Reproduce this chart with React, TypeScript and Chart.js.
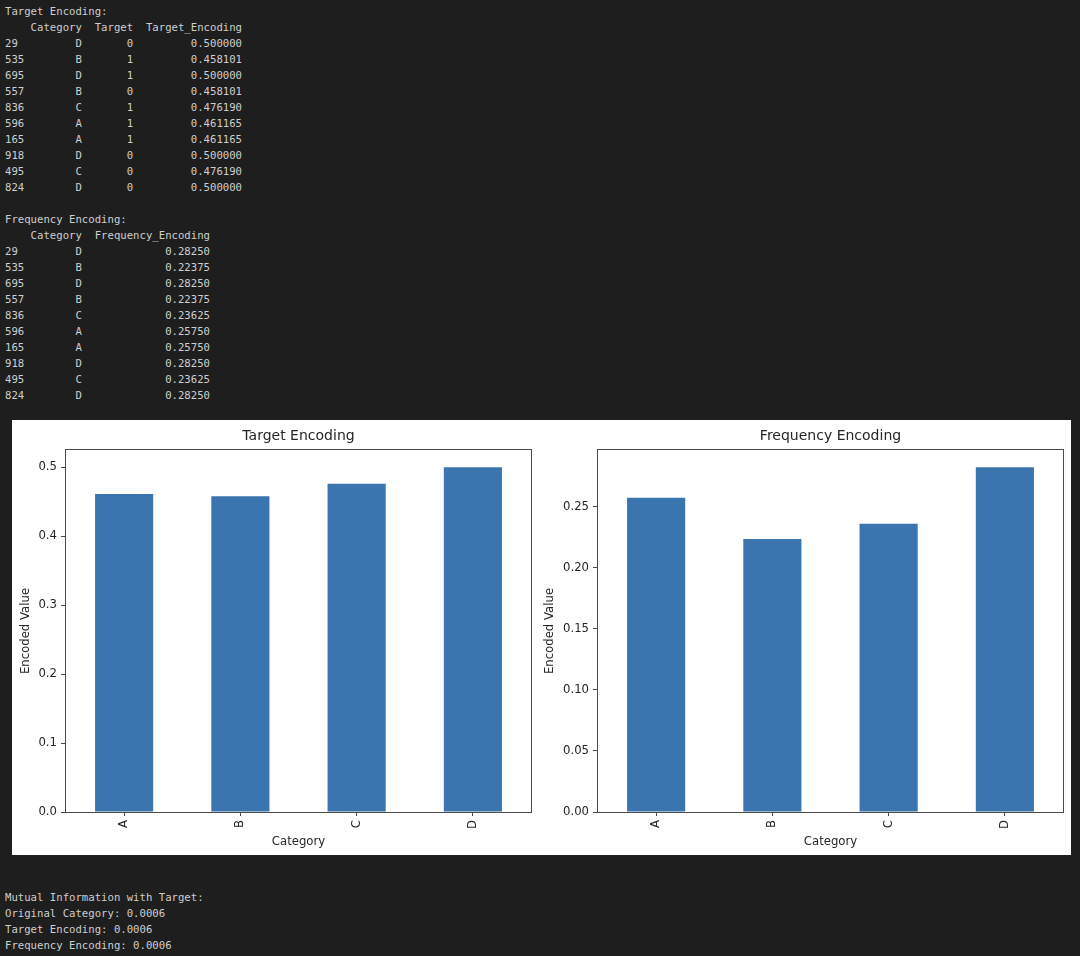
import React, { useEffect, useRef } from 'react';
import { Chart, registerables } from 'chart.js';

Chart.register(...registerables);

// ---- printed table data ----
const rowIndex = ['29', '535', '695', '557', '836', '596', '165', '918', '495', '824'];
const rowCategory = ['D', 'B', 'D', 'B', 'C', 'A', 'A', 'D', 'C', 'D'];
const rowTarget = ['0', '1', '1', '0', '1', '1', '1', '0', '0', '0'];
const rowTargetEnc = ['0.500000', '0.458101', '0.500000', '0.458101', '0.476190', '0.461165', '0.461165', '0.500000', '0.476190', '0.500000'];
const rowFreqEnc = ['0.28250', '0.22375', '0.28250', '0.22375', '0.23625', '0.25750', '0.25750', '0.28250', '0.23625', '0.28250'];

// ---- chart data ----
const categories = ['A', 'B', 'C', 'D'];
const targetEncoding = [0.461165, 0.458101, 0.47619, 0.5];
const frequencyEncoding = [0.2575, 0.22375, 0.23625, 0.2825];
const targetTicks = [0, 0.1, 0.2, 0.3, 0.4, 0.5];
const targetTickLabels = ['0.0', '0.1', '0.2', '0.3', '0.4', '0.5'];
const freqTicks = [0, 0.05, 0.1, 0.15, 0.2, 0.25];
const freqTickLabels = ['0.00', '0.05', '0.10', '0.15', '0.20', '0.25'];

// ---- mutual information ----
const miNames = ['Original Category', 'Target Encoding', 'Frequency Encoding'];
const miValues = ['0.0006', '0.0006', '0.0006'];

const targetLines = [
  'Target Encoding:',
  ''.padEnd(3) + 'Category'.padStart(9) + 'Target'.padStart(8) + 'Target_Encoding'.padStart(17),
  ...rowIndex.map((ix, i) => ix.padEnd(3) + rowCategory[i].padStart(9) + rowTarget[i].padStart(8) + rowTargetEnc[i].padStart(17)),
  '',
  'Frequency Encoding:',
  ''.padEnd(3) + 'Category'.padStart(9) + 'Frequency_Encoding'.padStart(20),
  ...rowIndex.map((ix, i) => ix.padEnd(3) + rowCategory[i].padStart(9) + rowFreqEnc[i].padStart(20)),
];

const miLines = ['Mutual Information with Target:', ...miNames.map((n, i) => `${n}: ${miValues[i]}`)];

const FONT = 'DejaVu Sans';
const TXT = '#262626';
const AX = '#4a4a4a';

const frameBox = {
  id: 'frameBox',
  afterDatasetsDraw(chart: any) {
    const { ctx, chartArea: a } = chart;
    ctx.save();
    ctx.strokeStyle = AX;
    ctx.lineWidth = 1;
    const l = Math.round(a.left) - 0.5;
    const t = Math.round(a.top) - 0.5;
    const r = Math.round(a.right) + 0.5;
    const b = Math.round(a.bottom) + 0.5;
    ctx.strokeRect(l, t, r - l, b - t);
    ctx.restore();
  },
};

type PanelProps = {
  left: number;
  width: number;
  yAxisWidth: number;
  padRight: number;
  title: string;
  values: number[];
  ticks: number[];
  tickLabels: string[];
};

function BarPanel({ left, width, yAxisWidth, padRight, title, values, ticks, tickLabels }: PanelProps) {
  const ref = useRef<HTMLCanvasElement>(null);
  useEffect(() => {
    if (!ref.current) return;
    const font = { family: FONT, size: 11.7, weight: 'normal' as const };
    const chart = new Chart(ref.current, {
      type: 'bar',
      data: {
        labels: categories,
        datasets: [
          {
            data: values,
            backgroundColor: '#3a75af',
            borderWidth: 0,
            barPercentage: 0.5,
            categoryPercentage: 1,
          },
        ],
      },
      plugins: [frameBox],
      options: {
        responsive: false,
        animation: false,
        events: [],
        layout: { padding: { left: 0, right: padRight, top: 0, bottom: 0 } },
        plugins: {
          legend: { display: false },
          tooltip: { enabled: false },
          title: {
            display: true,
            text: title,
            fullSize: false,
            color: TXT,
            font: { family: FONT, size: 14, weight: 'normal' },
            padding: { top: 7.6, bottom: 5.6 },
          },
        },
        scales: {
          x: {
            type: 'category',
            offset: true,
            grid: { display: true, offset: false, drawOnChartArea: false, drawTicks: true, tickLength: 4, color: AX, lineWidth: 1 },
            border: { display: false },
            ticks: { minRotation: 90, maxRotation: 90, autoSkip: false, padding: 4, color: TXT, font },
            title: { display: true, text: 'Category', color: TXT, font, padding: { top: 0, bottom: 6 } },
            afterFit: (s: any) => {
              s.height = 43;
            },
          },
          y: {
            type: 'linear',
            min: 0,
            max: Math.max(...values) * 1.05,
            afterBuildTicks: (s: any) => {
              s.ticks = ticks.map((v) => ({ value: v }));
            },
            grid: { display: true, drawOnChartArea: false, drawTicks: true, tickLength: 5, color: AX, lineWidth: 1 },
            border: { display: false },
            ticks: { padding: 4, color: TXT, font, callback: (_v: any, i: number) => tickLabels[i] },
            title: { display: true, text: 'Encoded Value', color: TXT, font, padding: { top: 7, bottom: 0 } },
            afterFit: (s: any) => {
              s.width = yAxisWidth;
            },
          },
        },
      } as any,
    });
    return () => chart.destroy();
  }, []);
  return (
    <canvas
      ref={ref}
      width={width}
      height={435}
      style={{ position: 'absolute', left, top: 420, width, height: 435 }}
    />
  );
}

const preStyle: React.CSSProperties = {
  position: 'absolute',
  left: 5,
  margin: 0,
  fontFamily: '"DejaVu Sans Mono", monospace',
  fontSize: 10.65,
  lineHeight: '16px',
  color: '#cfcfcf',
  whiteSpace: 'pre',
};

export default function App() {
  return (
    <div style={{ position: 'fixed', left: 0, top: 0, width: 1080, height: 956, background: '#1e1e1e', overflow: 'hidden' }}>
      <pre style={{ ...preStyle, top: 3.5 }}>{targetLines.join('\n')}</pre>
      <div style={{ position: 'absolute', left: 12, top: 420, width: 1059, height: 435, background: '#ffffff' }} />
      <BarPanel left={12} width={524} yAxisWidth={54} padRight={5} title="Target Encoding" values={targetEncoding} ticks={targetTicks} tickLabels={targetTickLabels} />
      <BarPanel left={536} width={535} yAxisWidth={62} padRight={8} title="Frequency Encoding" values={frequencyEncoding} ticks={freqTicks} tickLabels={freqTickLabels} />
      <pre style={{ ...preStyle, top: 889.5 }}>{miLines.join('\n')}</pre>
    </div>
  );
}
